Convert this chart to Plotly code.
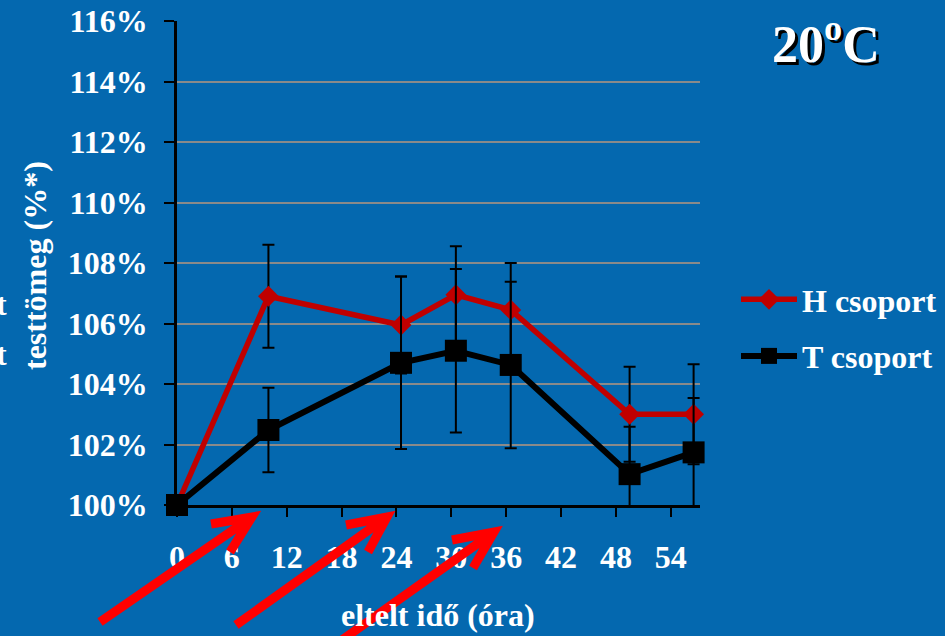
import plotly.graph_objects as go

# Elapsed time (hours) and relative body mass (%) for the two groups
hours = [0, 10, 24.5, 30.5, 36.5, 49.5, 56.5]
h_group = [100.0, 106.9, 105.95, 106.95, 106.45, 103.0, 103.0]
h_err = [0, 1.7, 1.6, 1.6, 1.55, 1.57, 1.65]
t_group = [100.0, 102.48, 104.7, 105.1, 104.63, 101.02, 101.74]
t_err = [0, 1.4, 2.85, 2.7, 2.75, 1.57, 1.8]

x_ticks = [0, 6, 12, 18, 24, 30, 36, 42, 48, 54]
y_ticks = [100, 102, 104, 106, 108, 110, 112, 114, 116]
y_tick_labels = [f"{v}%" for v in y_ticks]

BG = "#0468AF"
FONT = "Liberation Serif"
W, H = 945, 636
L, R, T, B = 177, 245, 21, 131
PW, PH = W - L - R, H - T - B


def px(x):
    return (x - L) / PW


def py(y):
    return (H - B - y) / PH


fig = go.Figure()

fig.add_trace(go.Scatter(
    x=hours, y=h_group, name="H csoport", mode="lines+markers", legendgroup="h",
    line=dict(color="#C00000", width=5.5),
    marker=dict(symbol="diamond", size=16, color="#C00000"),
    error_y=dict(type="data", array=h_err, visible=True,
                 color="black", thickness=2, width=6),
    cliponaxis=False,
))
fig.add_trace(go.Scatter(
    x=hours, y=t_group, name="T csoport", mode="lines+markers", legendgroup="t",
    line=dict(color="black", width=6),
    marker=dict(symbol="square", size=22, color="black"),
    error_y=dict(type="data", array=t_err, visible=True,
                 color="black", thickness=2, width=6),
    cliponaxis=False,
))


def label(text, x, y, size=32, angle=0, **kw):
    return dict(text=text, x=px(x), y=py(y), xref="paper", yref="paper",
                xanchor=kw.pop("xanchor", "center"), yanchor="middle",
                textangle=angle, showarrow=False,
                font=dict(family=FONT, size=size, color="white", **kw))


annotations = [
    label("<b>20<sup>o</sup>C</b>", 826, 41, size=52, shadow="3px 3px 0px black"),
    label("<b>testtömeg (%*)</b>", 35, 266, angle=-90),
    label("<b>t</b>", 9, 304, xanchor="right"),
    label("<b>t</b>", 9, 354, xanchor="right"),
    label("<b>eltelt idő (óra)</b>", 438, 615),
]

# Red pointer arrows below the time axis: tail, tip, two head ends
arrows = [
    ((100, 622), (252, 517), (211, 524), (230, 552)),
    ((236, 625), (387, 517), (346, 525), (368, 552)),
    ((342, 640), (494, 532), (452, 540), (473, 568)),
]
shapes = []
for tail, tip, a, b in arrows:
    path = (f"M {px(tail[0])},{py(tail[1])} L {px(tip[0])},{py(tip[1])} "
            f"M {px(a[0])},{py(a[1])} L {px(tip[0])},{py(tip[1])} L {px(b[0])},{py(b[1])}")
    shapes.append(dict(type="path", path=path, xref="paper", yref="paper",
                       line=dict(color="#FF0000", width=9), layer="above"))

fig.update_layout(
    width=W, height=H,
    margin=dict(l=L, r=R, t=T, b=B, autoexpand=False),
    paper_bgcolor=BG, plot_bgcolor=BG,
    font=dict(family=FONT, size=32, color="white"),
    showlegend=True,
    legend=dict(x=px(736), y=py(328), xref="paper", yref="paper",
                xanchor="left", yanchor="middle", bgcolor="rgba(0,0,0,0)",
                font=dict(family=FONT, size=32, color="white", weight="bold"),
                itemwidth=56, tracegroupgap=12),
    annotations=annotations,
    shapes=shapes,
)

fig.update_xaxes(
    range=[0, 57.2], tickvals=x_ticks, ticktext=[str(v) for v in x_ticks],
    showgrid=False, zeroline=False, showline=True, linecolor="black", linewidth=2.5,
    ticks="outside", ticklen=9, tickwidth=2, tickcolor="black",
    tickfont=dict(family=FONT, size=32, color="white", weight="bold"),
    ticklabelstandoff=13, automargin=False,
)
fig.update_yaxes(
    range=[100, 116], tickvals=y_ticks, ticktext=y_tick_labels,
    showgrid=True, gridcolor="#8A8A8A", gridwidth=1.5, zeroline=False,
    showline=True, linecolor="black", linewidth=2.5,
    ticks="outside", ticklen=10, tickwidth=2, tickcolor="black",
    tickfont=dict(family=FONT, size=32, color="white", weight="bold"),
    ticklabelstandoff=10, automargin=False,
)

fig.write_html("out.html")
